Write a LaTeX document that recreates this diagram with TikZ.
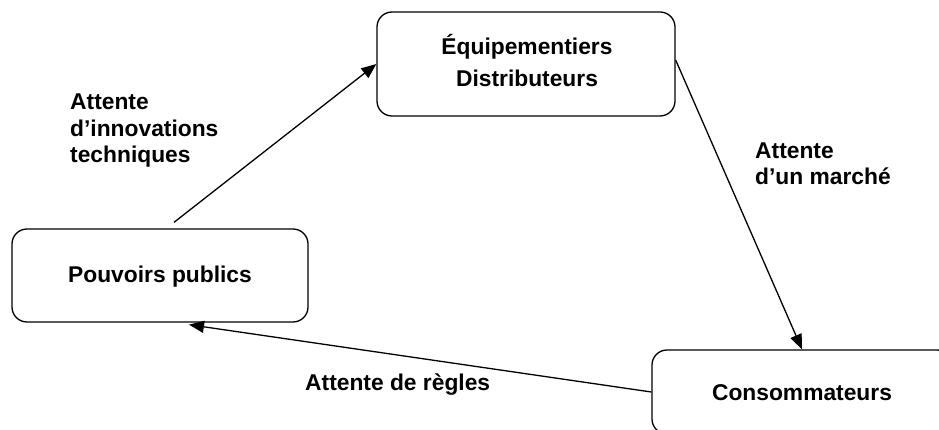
\documentclass[tikz,border=0pt]{standalone}
\usepackage{fontspec}
\setmainfont{Liberation Sans}
\usetikzlibrary{arrows.meta,calc}
\begin{document}
\begin{tikzpicture}[x=1pt,y=-1pt,
  box/.style={draw,line width=1.3pt,rounded corners=15pt,inner sep=0pt},
  lbl/.style={font=\bfseries\fontsize{22.8}{26.5}\selectfont,inner sep=0pt,align=left},
  arr/.style={line width=1.3pt,-{Triangle[length=15pt,width=12pt]}}]
\useasboundingbox (0,0) rectangle (939,430);
\clip (0,0) rectangle (939,430);
\fill[white] (0,0) rectangle (939,430);
\node[box,minimum width=298pt,minimum height=104pt] (eq) at (526,64) {};
\node[box,minimum width=296pt,minimum height=93pt] (pp) at (160,275.5) {};
\node[box,minimum width=300pt,minimum height=84pt] (co) at (802,392) {};
\node[lbl,anchor=base] (eqt1) at (527,55) {Équipementiers};
\node[lbl,anchor=base] (eqt2) at (527,87) {Distributeurs};
\node[lbl,anchor=base] (ppt) at (160,282) {Pouvoirs publics};
\node[lbl,anchor=base] (cot) at (802,400) {Consommateurs};
\node[lbl,anchor=base west] (l1) at (70,163) {Attente\\d’innovations\\techniques};
\node[lbl,anchor=base west] (l2) at (755,185) {Attente\\d’un marché};
\node[lbl,anchor=base west] (l3) at (305,390) {Attente de règles};
\draw[arr] ($(pp.north)+(14,-6)$) -- (eq.west);
\draw[arr] ($(eq.east)+(0,-4)$) -- (co.north);
\draw[arr] (co.west) -- ($(pp.south)+(29,2)$);
\end{tikzpicture}
\end{document}
